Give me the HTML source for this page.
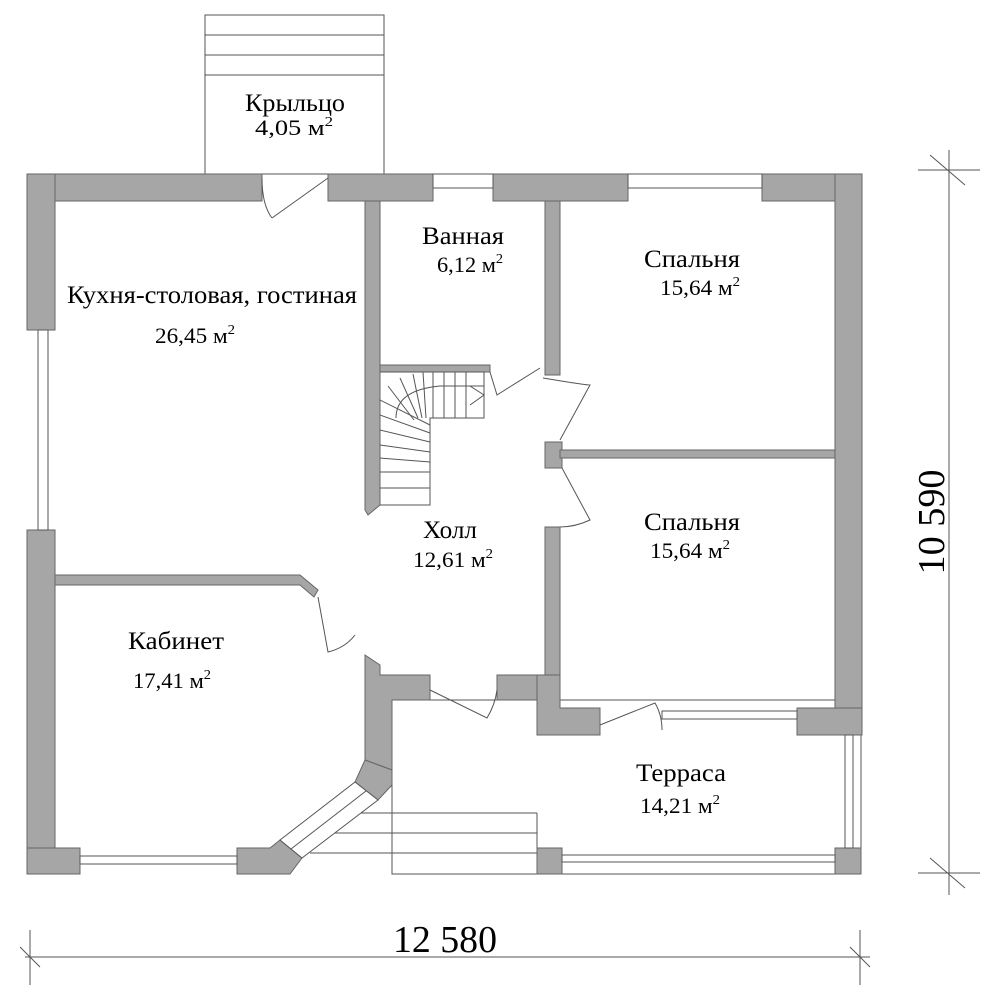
<!DOCTYPE html>
<html><head><meta charset="utf-8"><style>
html,body{margin:0;padding:0;background:#fff;}
svg{display:block;}
text{font-family:"Liberation Serif",serif;fill:#000;}
</style></head><body>
<svg width="992" height="1000" viewBox="0 0 992 1000" xmlns="http://www.w3.org/2000/svg">
<g stroke="#555" stroke-width="1" fill="none">
<rect x="205" y="15" width="179" height="159" fill="#fff"/>
<line x1="205" y1="35" x2="384" y2="35"/>
<line x1="205" y1="55" x2="384" y2="55"/>
<line x1="205" y1="75" x2="384" y2="75"/>
<rect x="392" y="700" width="469" height="174" fill="#fff"/>
<line x1="350" y1="813" x2="537" y2="813"/>
<line x1="330" y1="833" x2="537" y2="833"/>
<line x1="310" y1="853" x2="537" y2="853"/>
<line x1="537" y1="813" x2="537" y2="874"/>
</g>
<g fill="#a6a6a6" stroke="#666" stroke-width="1">
<rect x="27" y="174" width="235" height="27"/>
<rect x="328" y="174" width="105" height="27"/>
<rect x="493" y="174" width="135" height="27"/>
<rect x="762" y="174" width="100" height="27"/>
<rect x="27" y="174" width="28" height="156"/>
<rect x="27" y="530" width="28" height="344"/>
<rect x="835" y="174" width="27" height="561"/>
<polygon points="55,575 300,575 318,590 314,597 300,585 55,585"/>
<polygon points="365,201 380,201 380,505 368,515 365,510"/>
<rect x="380" y="365" width="110" height="7"/>
<rect x="545" y="201" width="15" height="174"/>
<rect x="545" y="442" width="17" height="26"/>
<rect x="545" y="527" width="15" height="150"/>
<rect x="560" y="450" width="275" height="8"/>
<polygon points="365,655 380,665 380,675 430,675 430,700 392,700 392,770 365,760"/>
<rect x="497" y="675" width="48" height="25"/>
<polygon points="537,675 560,675 560,708 600,708 600,735 537,735"/>
<rect x="797" y="708" width="65" height="27"/>
<polygon points="365,760 392,770 392,785 378,800 355,782"/>
<polygon points="280,840 302,858 290,874 237,874 237,848 270,848"/>
<rect x="27" y="848" width="53" height="26"/>
<rect x="537" y="848" width="25" height="26"/>
<rect x="835" y="848" width="26" height="26"/>
</g>
<g stroke="#555" stroke-width="1" fill="#fff">
<rect x="433" y="174" width="60" height="14"/>
<rect x="628" y="174" width="134" height="14"/>
<rect x="38" y="330" width="10" height="200"/>
<rect x="80" y="856" width="157" height="8"/>
<rect x="662" y="711" width="135" height="8"/>
<rect x="562" y="855" width="273" height="7"/>
<rect x="845" y="735" width="8" height="113"/>
<polygon points="355,782 378,800 302,858 280,840"/>
<line x1="366" y1="791" x2="291" y2="849"/>
</g>
<g stroke="#555" stroke-width="1" fill="none">
<path d="M328,178 L272,218 M262,178 Q262,205 272,218"/>
<path d="M490,372 L497,395 L540,368 M543,378 Q585,385 590,385 L560,440"/>
<path d="M562,468 L590,520 Q575,527 560,527"/>
<path d="M318,597 L328,652 Q345,648 355,635"/>
<path d="M430,690 L487,718 Q495,705 497,690"/>
<path d="M600,725 L655,703 Q662,715 662,730"/>
<path d="M380,372 L484,372 L484,418 L430,418 L430,505 L380,505"/>
<path d="M396,418 Q396,390 440,386 L484,386"/>
<line x1="466" y1="372" x2="466" y2="418"/><line x1="455" y1="372" x2="455" y2="418"/>
<line x1="444" y1="372" x2="444" y2="418"/><line x1="433" y1="372" x2="433" y2="418"/>
<line x1="423" y1="372" x2="426" y2="418"/><line x1="413" y1="374" x2="422" y2="418"/>
<line x1="400" y1="378" x2="418" y2="418"/><line x1="388" y1="386" x2="414" y2="420"/>
<line x1="380" y1="400" x2="430" y2="425"/><line x1="380" y1="415" x2="430" y2="433"/>
<line x1="380" y1="430" x2="430" y2="442"/><line x1="380" y1="445" x2="430" y2="452"/>
<line x1="380" y1="458" x2="430" y2="462"/><line x1="380" y1="472" x2="430" y2="472"/>
<line x1="380" y1="488" x2="430" y2="488"/>
<path d="M470,386 L484,395 L470,405"/>
</g>
<g stroke="#555" stroke-width="1">
<line x1="25" y1="957" x2="870" y2="957"/>
<line x1="30" y1="930" x2="30" y2="985"/><line x1="860" y1="930" x2="860" y2="985"/>
<line x1="20" y1="947" x2="40" y2="967"/><line x1="850" y1="947" x2="870" y2="967"/>
<line x1="949" y1="150" x2="949" y2="895"/>
<line x1="918" y1="170" x2="980" y2="170"/><line x1="918" y1="873" x2="980" y2="873"/>
<line x1="930" y1="155" x2="965" y2="185"/><line x1="930" y1="858" x2="965" y2="888"/>
</g>
<text x="445" y="952" font-size="38" text-anchor="middle" textLength="104" lengthAdjust="spacingAndGlyphs">12 580</text>
<text transform="translate(944,522) rotate(-90)" font-size="38" text-anchor="middle" textLength="105" lengthAdjust="spacingAndGlyphs">10 590</text>
<g font-size="25" text-anchor="middle">
<text x="295" y="111" textLength="100" lengthAdjust="spacingAndGlyphs">Крыльцо</text>
<text x="294" y="135" font-size="22" textLength="78" lengthAdjust="spacingAndGlyphs">4,05 м<tspan font-size="14" dy="-9">2</tspan></text>
<text x="212" y="303" textLength="290" lengthAdjust="spacingAndGlyphs">Кухня-столовая, гостиная</text>
<text x="195" y="343" font-size="22" textLength="80" lengthAdjust="spacingAndGlyphs">26,45 м<tspan font-size="14" dy="-9">2</tspan></text>
<text x="463" y="244" textLength="82" lengthAdjust="spacingAndGlyphs">Ванная</text>
<text x="470" y="272" font-size="22" textLength="66" lengthAdjust="spacingAndGlyphs">6,12 м<tspan font-size="14" dy="-9">2</tspan></text>
<text x="692" y="267" textLength="96" lengthAdjust="spacingAndGlyphs">Спальня</text>
<text x="700" y="295" font-size="22" textLength="80" lengthAdjust="spacingAndGlyphs">15,64 м<tspan font-size="14" dy="-9">2</tspan></text>
<text x="692" y="530" textLength="96" lengthAdjust="spacingAndGlyphs">Спальня</text>
<text x="690" y="558" font-size="22" textLength="80" lengthAdjust="spacingAndGlyphs">15,64 м<tspan font-size="14" dy="-9">2</tspan></text>
<text x="450" y="538" textLength="54" lengthAdjust="spacingAndGlyphs">Холл</text>
<text x="453" y="567" font-size="22" textLength="80" lengthAdjust="spacingAndGlyphs">12,61 м<tspan font-size="14" dy="-9">2</tspan></text>
<text x="176" y="649" textLength="96" lengthAdjust="spacingAndGlyphs">Кабинет</text>
<text x="172" y="688" font-size="22" textLength="78" lengthAdjust="spacingAndGlyphs">17,41 м<tspan font-size="14" dy="-9">2</tspan></text>
<text x="681" y="781" textLength="90" lengthAdjust="spacingAndGlyphs">Терраса</text>
<text x="680" y="813" font-size="22" textLength="80" lengthAdjust="spacingAndGlyphs">14,21 м<tspan font-size="14" dy="-9">2</tspan></text>
</g>
</svg>
</body></html>
